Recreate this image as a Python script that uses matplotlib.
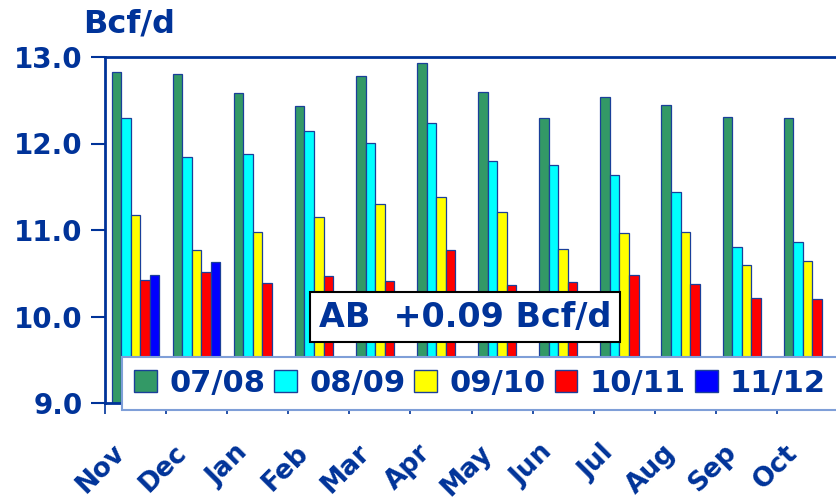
import matplotlib

matplotlib.use("Agg")
import matplotlib.pyplot as plt
import matplotlib.transforms as mtransforms
import numpy as np
from matplotlib.patches import Patch

NAVY = "#003399"

months = ["Nov", "Dec", "Jan", "Feb", "Mar", "Apr", "May", "Jun", "Jul", "Aug", "Sep", "Oct"]
seasons = ["07/08", "08/09", "09/10", "10/11", "11/12"]
colors = ["#339966", "#00FFFF", "#FFFF00", "#FF0000", "#0000FF"]

# Bcf/d by month, one list per gas year
s0708 = [12.83, 12.80, 12.58, 12.43, 12.78, 12.93, 12.59, 12.29, 12.54, 12.44, 12.31, 12.29]
s0809 = [12.29, 11.84, 11.88, 12.14, 12.01, 12.24, 11.80, 11.75, 11.64, 11.44, 10.80, 10.86]
s0910 = [11.17, 10.77, 10.98, 11.15, 11.30, 11.38, 11.21, 10.78, 10.97, 10.98, 10.60, 10.64]
s1011 = [10.42, 10.52, 10.39, 10.47, 10.41, 10.77, 10.36, 10.40, 10.48, 10.38, 10.21, 10.20]
s1112 = [10.48, 10.63]
series = [s0708, s0809, s0910, s1011, s1112]

y_ticks = [9.0, 10.0, 11.0, 12.0, 13.0]
note = "AB  +0.09 Bcf/d"

fig = plt.figure(figsize=(8.36, 5.0), dpi=100)
ax = fig.add_axes([105 / 836, 1 - 403 / 500, 733 / 836, 346 / 500])

width = 0.156
base = 9.0
x = np.arange(len(months))
for i, (vals, col) in enumerate(zip(series, colors)):
    pos = x[: len(vals)] + (i - 2) * width
    ax.bar(pos, np.array(vals) - base, width, bottom=base, color=col,
           edgecolor="#1a3f99", linewidth=0.9, zorder=2)

ax.set_xlim(-0.5, len(months) - 0.5)
ax.set_ylim(9.0, 13.0)
ax.set_yticks(y_ticks)
ax.set_yticklabels([f"{v:.1f}" for v in y_ticks], fontsize=20, fontweight="bold", color=NAVY)
ax.tick_params(axis="y", direction="out", length=10, width=1.5, color=NAVY, pad=6)

ax.set_xticks(x)
ax.set_xticklabels(months, rotation=45, ha="right", va="center", rotation_mode="anchor",
                   fontsize=19, fontweight="bold", color=NAVY)
ax.tick_params(axis="x", which="major", length=0, pad=33)
shift = mtransforms.ScaledTranslation(-14 / 100, 0, fig.dpi_scale_trans)
for lab in ax.get_xticklabels():
    lab.set_transform(lab.get_transform() + shift)
ax.set_xticks(np.arange(len(months)) - 0.5, minor=True)
ax.tick_params(axis="x", which="minor", direction="out", length=8, width=1.2, color=NAVY)

for side in ["left", "top", "bottom"]:
    ax.spines[side].set_color(NAVY)
    ax.spines[side].set_linewidth(2)
ax.spines["right"].set_visible(False)

fig.text(83 / 836, 1 - 24 / 500, "Bcf/d", fontsize=23, fontweight="bold", color=NAVY,
         ha="left", va="center")

fig.text(465 / 836, 1 - 317 / 500, note, fontsize=24, fontweight="bold", color=NAVY,
         ha="center", va="center",
         bbox=dict(boxstyle="square,pad=0.25", facecolor="white", edgecolor="black", linewidth=1.5))

handles = [Patch(facecolor=c, edgecolor="#1a3f99", linewidth=1) for c in colors]
leg = fig.legend(handles, seasons, loc="lower left", ncol=5, mode="expand",
                 bbox_to_anchor=(122 / 836, 1 - 410 / 500, 716 / 836, 53 / 500),
                 prop={"size": 22, "weight": "bold"}, frameon=True, fancybox=False,
                 framealpha=1, handlelength=0.75, handleheight=0.75, handletextpad=0.4,
                 columnspacing=0.6, borderaxespad=0)
for t in leg.get_texts():
    t.set_color(NAVY)
leg.get_frame().set_edgecolor("#7f9fd8")
leg.get_frame().set_linewidth(1.5)

fig.savefig("out.png", dpi=100)
